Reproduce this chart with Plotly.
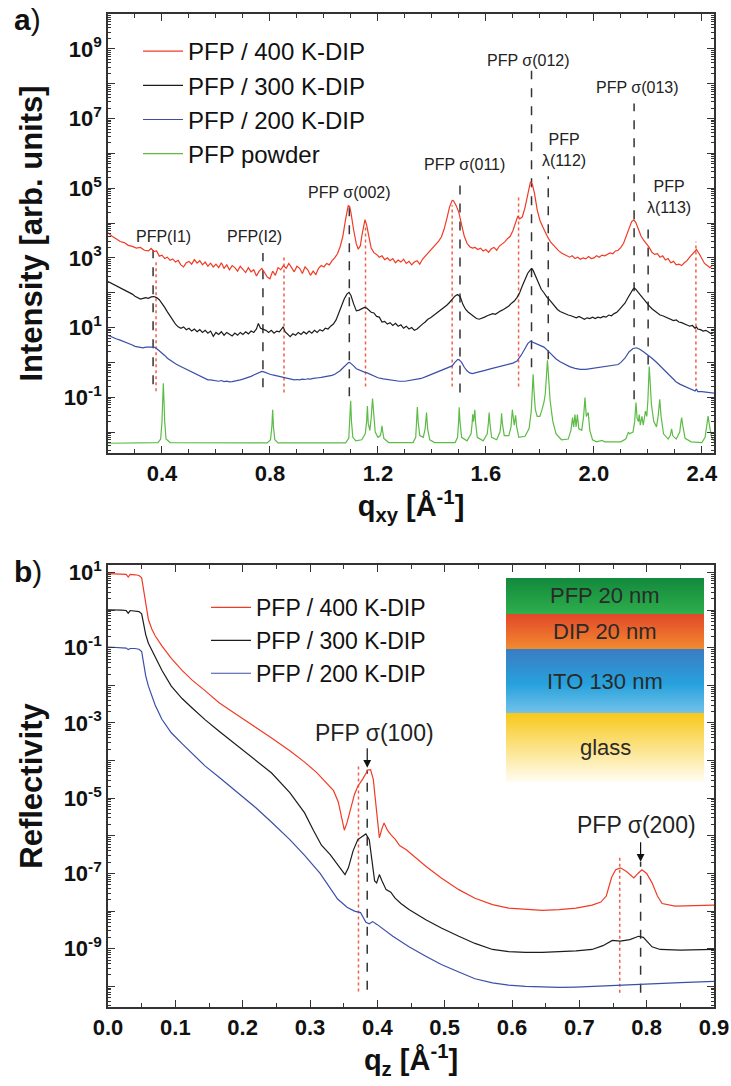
import plotly.graph_objects as go

W, H = 731, 1086
FONT = "Liberation Sans, Arial, sans-serif"

# ---------------- panel a) GIXD, q_xy [1/Å] vs log10(intensity) ----------------
a_400 = [(0.20,3.72),(0.215,3.62),(0.23,3.55),(0.245,3.47),(0.26,3.44),(0.275,3.36),(0.29,3.33),(0.305,3.28),(0.32,3.30),(0.335,3.22),(0.35,3.20),(0.36,3.27),(0.37,3.18),(0.38,3.20),(0.39,3.05),(0.40,3.08),(0.41,2.98),(0.42,3.02),(0.43,2.93),(0.44,2.97),(0.45,2.88),(0.46,2.93),(0.47,2.80),(0.48,2.74),(0.49,2.86),(0.50,2.90),(0.51,2.82),(0.52,2.95),(0.53,2.85),(0.54,2.92),(0.55,2.80),(0.56,2.88),(0.57,2.76),(0.58,2.85),(0.59,2.74),(0.60,2.82),(0.61,2.72),(0.62,2.86),(0.63,2.70),(0.64,2.80),(0.65,2.66),(0.66,2.78),(0.67,2.72),(0.68,2.62),(0.69,2.76),(0.70,2.68),(0.71,2.58),(0.72,2.72),(0.73,2.60),(0.74,2.66),(0.75,2.48),(0.76,2.62),(0.77,2.70),(0.78,2.58),(0.79,2.45),(0.80,2.40),(0.81,2.62),(0.82,2.50),(0.83,2.72),(0.84,2.66),(0.85,2.78),(0.86,2.70),(0.87,2.84),(0.88,2.72),(0.89,2.60),(0.90,2.76),(0.91,2.70),(0.92,2.55),(0.93,2.74),(0.94,2.66),(0.95,2.50),(0.96,2.62),(0.97,2.52),(0.98,2.70),(0.99,2.78),(1.00,2.74),(1.01,2.84),(1.02,2.80),(1.03,2.92),(1.04,3.00),(1.05,3.12),(1.06,3.32),(1.07,3.62),(1.08,4.10),(1.09,4.50),(1.095,4.48),(1.10,4.30),(1.11,3.80),(1.12,3.40),(1.127,3.25),(1.135,3.35),(1.14,3.62),(1.147,3.95),(1.152,4.10),(1.158,3.95),(1.165,3.62),(1.175,3.28),(1.185,3.15),(1.195,3.10),(1.205,3.02),(1.215,3.06),(1.225,2.95),(1.235,3.00),(1.245,2.92),(1.255,2.98),(1.265,2.86),(1.275,2.94),(1.285,2.88),(1.295,2.96),(1.305,2.84),(1.315,2.90),(1.325,2.80),(1.335,2.88),(1.345,2.92),(1.355,2.82),(1.365,2.96),(1.375,3.05),(1.385,3.12),(1.395,3.22),(1.405,3.30),(1.415,3.38),(1.425,3.48),(1.435,3.60),(1.445,3.82),(1.455,4.12),(1.465,4.45),(1.475,4.65),(1.48,4.64),(1.49,4.50),(1.50,4.30),(1.51,3.95),(1.52,3.62),(1.53,3.42),(1.54,3.32),(1.55,3.28),(1.56,3.30),(1.57,3.24),(1.58,3.28),(1.59,3.20),(1.60,3.24),(1.61,3.16),(1.62,3.26),(1.63,3.30),(1.64,3.22),(1.65,3.34),(1.66,3.40),(1.67,3.46),(1.68,3.55),(1.69,3.62),(1.70,3.78),(1.71,4.05),(1.718,4.20),(1.725,4.12),(1.735,4.18),(1.745,4.45),(1.755,4.85),(1.765,5.18),(1.772,5.12),(1.78,4.85),(1.79,4.38),(1.80,4.08),(1.81,3.90),(1.82,3.72),(1.83,3.58),(1.84,3.45),(1.85,3.36),(1.86,3.26),(1.87,3.20),(1.88,3.14),(1.89,3.10),(1.90,3.08),(1.91,3.02),(1.92,3.06),(1.93,2.98),(1.94,3.02),(1.95,2.96),(1.96,3.00),(1.97,2.97),(1.98,3.04),(1.99,2.98),(2.00,3.00),(2.01,3.06),(2.02,3.02),(2.03,3.08),(2.04,3.06),(2.05,3.10),(2.06,3.14),(2.07,3.12),(2.08,3.20),(2.09,3.22),(2.10,3.30),(2.11,3.42),(2.12,3.62),(2.13,3.86),(2.14,4.04),(2.148,4.09),(2.155,4.02),(2.165,3.82),(2.175,3.62),(2.185,3.50),(2.195,3.40),(2.205,3.30),(2.215,3.16),(2.225,3.10),(2.235,3.12),(2.245,3.02),(2.255,3.06),(2.265,2.94),(2.275,2.98),(2.285,2.86),(2.295,2.90),(2.305,2.80),(2.315,2.82),(2.325,2.78),(2.335,2.86),(2.345,2.92),(2.355,3.02),(2.365,3.12),(2.375,3.22),(2.38,3.24),(2.39,3.12),(2.40,2.96),(2.41,2.84),(2.42,2.78),(2.43,2.72),(2.44,2.80)]

a_300 = [(0.20,2.32),(0.215,2.26),(0.23,2.22),(0.245,2.16),(0.26,2.10),(0.275,2.02),(0.29,1.96),(0.30,1.90),(0.31,1.86),(0.32,1.82),(0.33,1.84),(0.34,1.86),(0.35,1.84),(0.36,1.88),(0.37,1.89),(0.38,1.86),(0.39,1.80),(0.40,1.70),(0.41,1.58),(0.42,1.45),(0.43,1.32),(0.44,1.20),(0.45,1.10),(0.46,1.02),(0.47,0.98),(0.48,1.02),(0.49,0.94),(0.50,0.98),(0.51,0.90),(0.52,0.96),(0.53,0.88),(0.54,0.94),(0.55,0.86),(0.56,0.92),(0.57,0.84),(0.58,0.90),(0.59,0.75),(0.60,0.86),(0.61,0.80),(0.62,0.88),(0.63,0.78),(0.64,0.86),(0.65,0.80),(0.66,0.76),(0.67,0.84),(0.68,0.78),(0.69,0.86),(0.70,0.80),(0.71,0.88),(0.72,0.82),(0.73,0.90),(0.74,0.86),(0.75,0.96),(0.757,1.12),(0.765,0.98),(0.775,0.96),(0.785,0.92),(0.795,0.86),(0.805,0.92),(0.815,0.84),(0.825,0.90),(0.835,0.88),(0.842,0.96),(0.849,1.02),(0.856,0.88),(0.865,0.80),(0.875,0.74),(0.885,0.82),(0.895,0.78),(0.905,0.86),(0.915,0.80),(0.925,0.88),(0.935,0.82),(0.945,0.90),(0.955,0.84),(0.965,0.92),(0.975,0.86),(0.985,0.94),(0.995,0.90),(1.005,0.98),(1.015,0.96),(1.025,1.04),(1.035,1.10),(1.045,1.22),(1.055,1.40),(1.065,1.62),(1.075,1.82),(1.085,1.96),(1.093,2.01),(1.10,1.92),(1.11,1.68),(1.12,1.48),(1.13,1.50),(1.14,1.55),(1.15,1.58),(1.158,1.56),(1.165,1.50),(1.175,1.44),(1.185,1.42),(1.195,1.32),(1.205,1.30),(1.215,1.16),(1.225,1.18),(1.235,1.10),(1.245,1.14),(1.255,1.06),(1.265,1.12),(1.275,1.04),(1.285,1.08),(1.295,0.98),(1.305,1.04),(1.315,0.96),(1.325,1.00),(1.335,0.92),(1.345,0.96),(1.355,1.04),(1.365,1.10),(1.375,1.16),(1.385,1.24),(1.395,1.28),(1.405,1.34),(1.415,1.40),(1.425,1.44),(1.435,1.50),(1.445,1.56),(1.455,1.64),(1.465,1.72),(1.475,1.82),(1.485,1.90),(1.495,1.95),(1.505,1.88),(1.515,1.66),(1.525,1.52),(1.535,1.44),(1.545,1.38),(1.555,1.32),(1.565,1.26),(1.575,1.24),(1.585,1.26),(1.595,1.30),(1.605,1.34),(1.615,1.36),(1.625,1.40),(1.635,1.38),(1.645,1.44),(1.655,1.48),(1.665,1.52),(1.675,1.56),(1.685,1.62),(1.695,1.70),(1.705,1.76),(1.715,1.86),(1.725,2.00),(1.735,2.20),(1.745,2.40),(1.755,2.56),(1.765,2.66),(1.770,2.69),(1.775,2.64),(1.785,2.46),(1.795,2.24),(1.805,2.10),(1.815,2.00),(1.825,1.88),(1.835,1.80),(1.845,1.70),(1.855,1.60),(1.865,1.52),(1.875,1.46),(1.885,1.42),(1.895,1.38),(1.905,1.36),(1.915,1.34),(1.925,1.32),(1.935,1.28),(1.945,1.32),(1.955,1.28),(1.965,1.24),(1.975,1.28),(1.985,1.26),(1.995,1.30),(2.005,1.26),(2.015,1.30),(2.025,1.28),(2.035,1.32),(2.045,1.30),(2.055,1.36),(2.065,1.34),(2.075,1.40),(2.085,1.44),(2.095,1.52),(2.105,1.60),(2.115,1.70),(2.125,1.84),(2.135,1.98),(2.145,2.10),(2.150,2.13),(2.155,2.10),(2.165,2.00),(2.175,1.90),(2.185,1.82),(2.195,1.72),(2.205,1.62),(2.215,1.54),(2.225,1.48),(2.235,1.42),(2.245,1.36),(2.255,1.34),(2.265,1.30),(2.275,1.26),(2.285,1.24),(2.295,1.20),(2.305,1.22),(2.315,1.16),(2.325,1.14),(2.335,1.10),(2.345,1.08),(2.355,1.04),(2.365,1.06),(2.375,0.98),(2.380,1.02),(2.385,0.96),(2.395,0.94),(2.405,0.90),(2.415,0.92),(2.425,0.86),(2.435,0.82),(2.445,0.86)]

a_200 = [(0.20,0.78),(0.215,0.72),(0.23,0.68),(0.245,0.64),(0.26,0.60),(0.275,0.55),(0.29,0.50),(0.30,0.46),(0.31,0.44),(0.32,0.42),(0.33,0.42),(0.34,0.44),(0.35,0.44),(0.36,0.45),(0.37,0.44),(0.38,0.40),(0.39,0.34),(0.40,0.28),(0.41,0.20),(0.42,0.12),(0.43,0.06),(0.44,0.00),(0.45,-0.04),(0.46,-0.08),(0.47,-0.12),(0.48,-0.16),(0.49,-0.20),(0.50,-0.24),(0.51,-0.28),(0.52,-0.32),(0.53,-0.36),(0.54,-0.40),(0.55,-0.44),(0.56,-0.46),(0.57,-0.50),(0.58,-0.50),(0.59,-0.52),(0.60,-0.52),(0.61,-0.54),(0.62,-0.52),(0.63,-0.55),(0.64,-0.54),(0.65,-0.56),(0.66,-0.55),(0.67,-0.54),(0.68,-0.52),(0.69,-0.50),(0.70,-0.48),(0.71,-0.46),(0.72,-0.44),(0.73,-0.40),(0.74,-0.36),(0.75,-0.32),(0.76,-0.28),(0.77,-0.26),(0.78,-0.28),(0.79,-0.32),(0.80,-0.34),(0.81,-0.36),(0.82,-0.38),(0.83,-0.40),(0.84,-0.42),(0.85,-0.44),(0.86,-0.46),(0.87,-0.48),(0.88,-0.48),(0.89,-0.50),(0.90,-0.49),(0.91,-0.50),(0.92,-0.48),(0.93,-0.49),(0.94,-0.47),(0.95,-0.48),(0.96,-0.46),(0.97,-0.46),(0.98,-0.44),(0.99,-0.43),(1.00,-0.42),(1.01,-0.40),(1.02,-0.40),(1.03,-0.37),(1.04,-0.34),(1.05,-0.30),(1.06,-0.24),(1.07,-0.16),(1.08,-0.08),(1.09,-0.01),(1.095,0.00),(1.10,-0.03),(1.11,-0.10),(1.12,-0.18),(1.13,-0.22),(1.14,-0.26),(1.15,-0.28),(1.16,-0.30),(1.17,-0.34),(1.18,-0.38),(1.19,-0.42),(1.20,-0.44),(1.22,-0.47),(1.24,-0.50),(1.26,-0.52),(1.28,-0.54),(1.30,-0.54),(1.32,-0.52),(1.34,-0.50),(1.36,-0.46),(1.38,-0.40),(1.40,-0.34),(1.42,-0.28),(1.44,-0.22),(1.46,-0.16),(1.475,-0.10),(1.485,0.00),(1.495,0.08),(1.50,0.08),(1.51,0.00),(1.52,-0.14),(1.53,-0.24),(1.54,-0.30),(1.55,-0.32),(1.56,-0.30),(1.58,-0.27),(1.60,-0.22),(1.62,-0.18),(1.64,-0.14),(1.66,-0.10),(1.68,-0.06),(1.70,-0.02),(1.715,0.04),(1.73,0.20),(1.745,0.40),(1.755,0.54),(1.765,0.61),(1.775,0.58),(1.785,0.54),(1.80,0.50),(1.815,0.44),(1.83,0.33),(1.845,0.20),(1.86,0.10),(1.875,0.02),(1.89,-0.04),(1.91,-0.12),(1.93,-0.17),(1.95,-0.20),(1.97,-0.20),(1.99,-0.18),(2.01,-0.16),(2.03,-0.13),(2.05,-0.12),(2.07,-0.10),(2.09,-0.06),(2.10,0.00),(2.115,0.12),(2.13,0.30),(2.145,0.40),(2.158,0.42),(2.17,0.38),(2.185,0.30),(2.20,0.22),(2.215,0.12),(2.23,0.02),(2.245,-0.10),(2.26,-0.22),(2.275,-0.34),(2.29,-0.46),(2.305,-0.56),(2.32,-0.63),(2.335,-0.68),(2.35,-0.72),(2.365,-0.78),(2.375,-0.82),(2.38,-0.76),(2.385,-0.84),(2.40,-0.84),(2.42,-0.86),(2.445,-0.88)]

a_powder = [(0.200,-2.32),(0.385,-2.30),(0.395,-2.20),(0.400,-1.70),(0.403,-1.00),(0.405,-0.60),(0.407,-1.00),(0.410,-1.70),(0.415,-2.20),(0.430,-2.30),
 (0.790,-2.31),(0.802,-2.22),(0.807,-1.85),(0.810,-1.36),(0.813,-1.85),(0.818,-2.22),(0.830,-2.31),
 (1.080,-2.31),(1.092,-2.18),(1.096,-1.70),(1.099,-1.10),(1.102,-1.70),(1.107,-2.15),(1.118,-2.25),(1.140,-2.22),(1.153,-2.05),(1.158,-1.70),(1.161,-1.25),(1.164,-1.75),(1.170,-1.95),(1.175,-1.60),(1.180,-1.04),(1.184,-1.55),(1.190,-2.00),(1.200,-2.15),(1.209,-2.10),(1.213,-1.95),(1.215,-1.82),(1.217,-1.95),(1.222,-2.18),(1.240,-2.30),
 (1.330,-2.30),(1.340,-2.15),(1.344,-1.70),(1.346,-1.28),(1.349,-1.70),(1.355,-2.10),(1.368,-2.15),(1.375,-1.90),(1.380,-1.44),(1.384,-1.90),(1.392,-2.22),(1.410,-2.30),
 (1.486,-2.30),(1.495,-2.15),(1.499,-1.70),(1.501,-1.29),(1.504,-1.70),(1.510,-2.15),(1.530,-2.25),(1.545,-2.05),(1.549,-1.75),(1.551,-1.49),(1.554,-1.70),(1.557,-1.55),(1.559,-1.36),(1.562,-1.75),(1.568,-2.15),(1.590,-2.25),(1.605,-2.05),(1.609,-1.75),(1.612,-1.44),(1.615,-1.75),(1.621,-2.15),(1.640,-2.22),(1.652,-2.00),(1.656,-1.75),(1.658,-1.46),(1.661,-1.75),(1.668,-2.10),(1.685,-2.10),(1.693,-1.85),(1.698,-1.36),(1.702,-1.75),(1.705,-1.80),(1.710,-1.52),(1.714,-1.85),(1.722,-2.15),(1.745,-2.12),(1.760,-1.90),(1.768,-1.40),(1.772,-0.80),(1.775,-0.34),(1.778,-0.80),(1.783,-1.35),(1.790,-1.55),(1.800,-1.55),(1.808,-1.35),(1.815,-1.15),(1.820,-0.90),(1.824,-0.40),(1.828,0.06),(1.832,-0.40),(1.838,-1.10),(1.848,-1.70),(1.860,-2.05),(1.880,-2.22),(1.905,-2.20),(1.915,-1.95),(1.921,-1.58),(1.925,-1.85),(1.930,-1.50),(1.934,-1.85),(1.939,-1.50),(1.944,-1.90),(1.955,-1.95),(1.962,-1.55),(1.967,-1.01),(1.972,-1.55),(1.979,-1.44),(1.985,-1.95),(1.995,-2.22),(2.010,-2.28),(2.030,-2.24),(2.040,-2.28),(2.100,-2.28),(2.118,-2.20),(2.124,-2.05),(2.128,-2.00),(2.132,-2.05),(2.145,-2.00),(2.151,-1.70),(2.156,-1.15),(2.160,-1.60),(2.165,-1.70),(2.168,-1.50),(2.172,-1.80),(2.178,-1.55),(2.183,-1.80),(2.191,-1.40),(2.196,-1.55),(2.200,-1.10),(2.203,-0.50),(2.205,-0.12),(2.208,-0.50),(2.213,-1.20),(2.222,-1.70),(2.232,-1.85),(2.238,-1.55),(2.244,-1.06),(2.249,-1.55),(2.258,-2.05),(2.275,-2.20),(2.283,-2.10),(2.288,-1.91),(2.292,-2.10),(2.305,-2.20),(2.318,-2.00),(2.322,-1.75),(2.325,-1.58),(2.329,-1.80),(2.338,-2.18),(2.360,-2.28),(2.400,-2.30),(2.412,-2.15),(2.418,-1.80),(2.423,-1.54),(2.428,-1.80),(2.436,-2.15),(2.445,-2.25)]

# reference lines, panel a: (q, log10 bottom, log10 top)
a_sigma_lines = [(0.367,-0.63,3.23),(0.774,-0.71,3.14),(1.094,-0.97,4.51),(1.504,-0.86,5.17),(1.769,-0.14,8.37),(1.831,0.09,5.34),(2.149,-1.06,7.43),(2.201,-0.06,4.00)]
a_dip_lines = [(0.378,-0.83,2.89),(0.852,-0.86,3.09),(1.154,-0.69,3.89),(1.475,-0.69,4.51),(1.721,-0.69,4.74),(2.378,-0.69,3.46)]
a_labels = [("PFP(I1)",0.407,3.60),("PFP(I2)",0.744,3.60),("PFP σ(002)",1.096,4.89),("PFP σ(011)",1.519,5.69),
            ("PFP σ(012)",1.759,8.66),("PFP<br>λ(112)",1.889,6.10),("PFP σ(013)",2.163,7.89),("PFP<br>λ(113)",2.278,4.74)]

# ---------------- panel b) XRR, q_z [1/Å] vs log10(reflectivity) ----------------
b_400 = [(0.000,0.97),(0.010,0.97),(0.020,0.96),(0.027,0.95),(0.030,0.88),(0.033,0.95),(0.040,0.94),(0.046,0.92),(0.050,0.86),(0.053,0.55),(0.056,0.15),(0.060,-0.25),(0.065,-0.50),(0.070,-0.68),(0.080,-0.95),(0.094,-1.28),(0.110,-1.60),(0.125,-1.86),(0.144,-2.14),(0.165,-2.46),(0.193,-2.80),(0.220,-3.12),(0.243,-3.40),(0.270,-3.74),(0.292,-4.04),(0.310,-4.32),(0.325,-4.62),(0.335,-4.80),(0.342,-5.10),(0.348,-5.60),(0.351,-5.85),(0.355,-5.65),(0.361,-5.20),(0.366,-4.90),(0.371,-4.68),(0.378,-4.50),(0.386,-4.25),(0.390,-4.24),(0.394,-4.50),(0.398,-5.20),(0.403,-6.05),(0.407,-5.80),(0.410,-5.66),(0.415,-5.85),(0.420,-5.97),(0.427,-6.10),(0.433,-6.26),(0.443,-6.37),(0.455,-6.55),(0.472,-6.81),(0.495,-7.12),(0.521,-7.43),(0.545,-7.66),(0.571,-7.83),(0.595,-7.92),(0.620,-7.96),(0.645,-7.98),(0.670,-7.96),(0.695,-7.92),(0.719,-7.84),(0.732,-7.76),(0.740,-7.60),(0.748,-7.10),(0.754,-6.90),(0.761,-6.85),(0.770,-6.95),(0.781,-7.12),(0.787,-7.00),(0.793,-6.90),(0.800,-7.00),(0.808,-7.25),(0.816,-7.60),(0.823,-7.80),(0.842,-7.87),(0.870,-7.85),(0.900,-7.84)]
b_300 = [(0.000,0.01),(0.010,0.01),(0.020,0.00),(0.027,-0.01),(0.030,-0.08),(0.033,-0.01),(0.040,-0.02),(0.046,-0.04),(0.050,-0.10),(0.053,-0.40),(0.056,-0.65),(0.060,-0.88),(0.065,-1.05),(0.070,-1.22),(0.080,-1.60),(0.094,-2.02),(0.110,-2.35),(0.125,-2.60),(0.144,-2.91),(0.165,-3.22),(0.193,-3.62),(0.220,-3.98),(0.243,-4.33),(0.270,-4.85),(0.292,-5.39),(0.305,-5.85),(0.317,-6.25),(0.330,-6.50),(0.340,-6.75),(0.352,-7.03),(0.357,-6.85),(0.364,-6.40),(0.371,-6.10),(0.378,-6.00),(0.383,-5.95),(0.388,-6.10),(0.392,-6.60),(0.396,-7.20),(0.399,-7.25),(0.403,-7.03),(0.407,-7.20),(0.413,-7.43),(0.420,-7.50),(0.426,-7.65),(0.435,-7.80),(0.447,-7.96),(0.472,-8.23),(0.495,-8.45),(0.521,-8.67),(0.545,-8.86),(0.571,-9.02),(0.595,-9.08),(0.620,-9.10),(0.645,-9.10),(0.670,-9.08),(0.695,-9.06),(0.719,-9.02),(0.735,-8.92),(0.749,-8.78),(0.761,-8.80),(0.775,-8.76),(0.788,-8.67),(0.795,-8.70),(0.808,-8.95),(0.820,-9.02),(0.850,-9.04),(0.900,-9.02)]
b_200 = [(0.000,-0.98),(0.010,-0.99),(0.020,-1.00),(0.027,-1.01),(0.030,-1.05),(0.033,-1.02),(0.040,-1.02),(0.046,-1.04),(0.050,-1.10),(0.053,-1.40),(0.056,-1.75),(0.060,-2.02),(0.065,-2.30),(0.070,-2.52),(0.080,-2.90),(0.094,-3.26),(0.110,-3.55),(0.125,-3.82),(0.144,-4.14),(0.165,-4.44),(0.193,-4.86),(0.220,-5.26),(0.243,-5.64),(0.270,-6.10),(0.292,-6.52),(0.315,-7.00),(0.341,-7.68),(0.355,-7.90),(0.366,-8.00),(0.375,-8.04),(0.383,-8.30),(0.388,-8.34),(0.393,-8.28),(0.400,-8.36),(0.423,-8.67),(0.447,-8.95),(0.472,-9.20),(0.495,-9.42),(0.521,-9.62),(0.545,-9.80),(0.571,-9.91),(0.595,-9.97),(0.620,-10.00),(0.645,-10.02),(0.670,-10.03),(0.695,-10.02),(0.720,-10.00),(0.745,-9.98),(0.769,-9.96),(0.800,-9.93),(0.818,-9.91),(0.850,-9.90),(0.900,-9.87)]

b_sigma_lines = [(0.385,-10.09,-4.24),(0.791,-10.17,-6.69)]
b_dip_lines = [(0.372,-10.14,-4.11),(0.760,-10.17,-6.50)]
# (text, text q, text log10, arrow q, arrow-head log10)
b_labels = [("PFP σ(100)",0.3956,-3.26,0.385,-4.19),("PFP σ(200)",0.7844,-5.70,0.791,-6.69)]

# layer stack of the sample (top to bottom) with gradient colours (bottom colour, top colour)
layer_names = ["PFP 20 nm", "DIP 20 nm", "ITO 130 nm", "glass"]
layer_colors = [[(0, "#2eae4c"), (1, "#12893d")],
                [(0, "#f28a2e"), (1, "#e2472a")],
                [(0, "#74c2ea"), (0.45, "#26a2dc"), (1, "#3a7cc2")],
                [(0, "#fffdf2"), (1, "#f8c81a")]]

COL = {"400": "#f03b25", "300": "#1c1c1c", "200": "#3b4fa8", "powder": "#5cbc46"}
DIPCOL = "#f06048"
SIGCOL = "#333333"

fig = go.Figure()

def add_curve(pts, name, color, xa, ya, legend):
    fig.add_trace(go.Scatter(x=[p[0] for p in pts], y=[10 ** p[1] for p in pts], mode="lines",
                             name=name, line=dict(color=color, width=1.2), xaxis=xa, yaxis=ya,
                             legend=legend))

def add_vlines(lines, color, dash, xa, ya):
    xs, ys = [], []
    for q, lo, hi in lines:
        xs += [q, q, None]
        ys += [10 ** lo, 10 ** hi, None]
    fig.add_trace(go.Scatter(x=xs, y=ys, mode="lines", line=dict(color=color, width=1.5, dash=dash),
                             showlegend=False, hoverinfo="skip", xaxis=xa, yaxis=ya))

add_vlines(a_sigma_lines, SIGCOL, "dash", "x", "y")
add_vlines(a_dip_lines, DIPCOL, "dot", "x", "y")
add_curve(a_400, "PFP / 400 K-DIP", COL["400"], "x", "y", "legend")
add_curve(a_300, "PFP / 300 K-DIP", COL["300"], "x", "y", "legend")
add_curve(a_200, "PFP / 200 K-DIP", COL["200"], "x", "y", "legend")
add_curve(a_powder, "PFP powder", COL["powder"], "x", "y", "legend")

add_vlines(b_sigma_lines, SIGCOL, "dash", "x2", "y2")
add_vlines(b_dip_lines, DIPCOL, "dot", "x2", "y2")
add_curve(b_400, "PFP / 400 K-DIP", COL["400"], "x2", "y2", "legend2")
add_curve(b_300, "PFP / 300 K-DIP", COL["300"], "x2", "y2", "legend2")
add_curve(b_200, "PFP / 200 K-DIP", COL["200"], "x2", "y2", "legend2")

# empty helper traces so the even-decade tick axes are drawn
for yax in ("y4", "y5"):
    fig.add_trace(go.Scatter(x=[None], y=[None], xaxis="x" if yax == "y4" else "x2", yaxis=yax,
                             showlegend=False, hoverinfo="skip"))

# sample layer stack inset (own hidden axes, 0..1 units)
layer_edges = [1.0, 0.824, 0.652, 0.338, 0.0]
for i, nm in enumerate(layer_names):
    top, bot = layer_edges[i], layer_edges[i + 1]
    fig.add_trace(go.Scatter(x=[0, 1, 1, 0, 0], y=[bot, bot, top, top, bot], mode="lines",
                             fill="toself", line=dict(width=0),
                             fillgradient=dict(type="vertical", colorscale=layer_colors[i]),
                             showlegend=False, hoverinfo="skip", xaxis="x3", yaxis="y3"))

TICKFONT = dict(family=FONT, size=22, color="#111", weight="bold")

def log_axis(kmin, kmax, rng, domain, anchor):
    odd = [k for k in range(kmin, kmax + 1) if k % 2]
    minor_vals = [m * 10.0 ** k for k in range(kmin - 1, kmax + 1) for m in range(2, 10)]
    return dict(type="log", range=rng, domain=domain, anchor=anchor, tickmode="array",
                tickvals=[10.0 ** k for k in odd], ticktext=["10<sup>%d</sup>" % k for k in odd],
                ticks="inside", ticklen=7, tickwidth=1.3,
                minor=dict(tickmode="array", tickvals=minor_vals, ticks="inside", ticklen=3.5,
                           tickwidth=1, tickcolor="#333"),
                showline=True, linecolor="#333", linewidth=1.6, mirror="ticks", tickcolor="#333",
                showgrid=False, zeroline=False, automargin=False, tickfont=TICKFONT)

def even_axis(kmin, kmax, rng, domain, anchor, over):
    even = [k for k in range(kmin, kmax + 1) if k % 2 == 0]
    return dict(type="log", range=rng, domain=domain, anchor=anchor, overlaying=over, side="left",
                tickmode="array", tickvals=[10.0 ** k for k in even], showticklabels=False,
                ticks="inside", ticklen=7, tickwidth=1.3, tickcolor="#333",
                showline=True, linecolor="#333", linewidth=1.6, mirror="ticks",
                showgrid=False, zeroline=False, automargin=False, fixedrange=True)

XD = [108 / W, 714 / W]
YDA = [1 - 453 / H, 1 - 14 / H]
YDB = [1 - 1007 / H, 1 - 565 / H]
RA = [-2.6, 10.0]
RB = [-10.55, 1.2]
TITLEFONT = dict(family=FONT, size=31, color="#111", weight="bold")
ya = log_axis(-2, 9, RA, YDA, "x")
ya["title"] = dict(text="Intensity [arb. units]", font=TITLEFONT, standoff=12)
yb = log_axis(-10, 1, RB, YDB, "x2")
yb["title"] = dict(text="Reflectivity", font=TITLEFONT, standoff=12)

common_x = dict(ticks="inside", ticklen=7, tickwidth=1.3, showline=True, linecolor="#333", linewidth=1.6,
                mirror="ticks", tickcolor="#333", showgrid=False, zeroline=False, automargin=False,
                tickfont=TICKFONT)
XTF = dict(family=FONT, size=29, color="#111", weight="bold")
xa = dict(common_x, domain=XD, range=[0.2, 2.445], anchor="y", tickmode="array",
          tickvals=[0.4, 0.8, 1.2, 1.6, 2.0, 2.4], ticktext=["0.4", "0.8", "1.2", "1.6", "2.0", "2.4"],
          minor=dict(tick0=0.2, dtick=0.1, ticks="inside", ticklen=4, tickwidth=1, tickcolor="#333"),
          title=dict(text="q<sub>xy</sub> [Å<sup>-1</sup>]", font=XTF, standoff=0))
xb = dict(common_x, domain=XD, range=[0, 0.9], anchor="y2", tickmode="linear", tick0=0, dtick=0.1,
          tickformat=".1f",
          minor=dict(tick0=0, dtick=0.05, ticks="inside", ticklen=4, tickwidth=1, tickcolor="#333"),
          title=dict(text="q<sub>z</sub> [Å<sup>-1</sup>]", font=XTF, standoff=6))

ann = []
for t, q, l in a_labels:
    ann.append(dict(text=t, x=q, y=l, xref="x", yref="y", showarrow=False,
                    font=dict(family=FONT, size=16, color="#222")))
for t, q, l, aq, al in b_labels:
    ann.append(dict(text=t, x=q, y=l, xref="x2", yref="y2", showarrow=False,
                    font=dict(family=FONT, size=23, color="#222")))
    ann.append(dict(text="", x=aq, y=al, xref="x2", yref="y2", showarrow=True, ax=0, ay=-21,
                    arrowhead=2, arrowsize=1.3, arrowwidth=1.2, arrowcolor="#111"))
layer_mid = [(layer_edges[i] + layer_edges[i + 1]) / 2 for i in range(4)]
for nm, ym in zip(layer_names, layer_mid):
    ann.append(dict(text=nm, x=0.5, y=ym, xref="x3", yref="y3", showarrow=False,
                    font=dict(family=FONT, size=22, color="#2a2a2a")))
for lab, ypx in (("a", 20), ("b", 571)):
    ann.append(dict(text="<b>%s</b>)" % lab, x=12 / W, y=1 - ypx / H, xref="paper", yref="paper",
                    xanchor="left", yanchor="middle", showarrow=False,
                    font=dict(family=FONT, size=30, color="#111")))

fig.update_layout(
    width=W, height=H, margin=dict(l=0, r=0, t=0, b=0, autoexpand=False),
    paper_bgcolor="white", plot_bgcolor="white",
    xaxis=xa, yaxis=ya, xaxis2=xb, yaxis2=yb,
    yaxis4=even_axis(-2, 9, RA, YDA, "x", "y"),
    yaxis5=even_axis(-10, 1, RB, YDB, "x2", "y2"),
    xaxis3=dict(domain=[506 / W, 704 / W], range=[0, 1], visible=False, anchor="y3", fixedrange=True),
    yaxis3=dict(domain=[1 - 782 / H, 1 - 578 / H], range=[0, 1], visible=False, anchor="x3", fixedrange=True),
    legend=dict(x=138 / W, y=1 - 29 / H, xanchor="left", yanchor="top", bgcolor="rgba(0,0,0,0)",
                font=dict(family=FONT, size=24, color="#111"), itemwidth=40, tracegroupgap=0),
    legend2=dict(x=206 / W, y=1 - 586 / H, xanchor="left", yanchor="top", bgcolor="rgba(0,0,0,0)",
                 font=dict(family=FONT, size=23, color="#111"), itemwidth=40, tracegroupgap=0),
    annotations=ann, showlegend=True,
)

fig.write_html("out.html", config={"displayModeBar": False},
               post_script="document.body.style.margin='0';document.body.style.padding='0';")
